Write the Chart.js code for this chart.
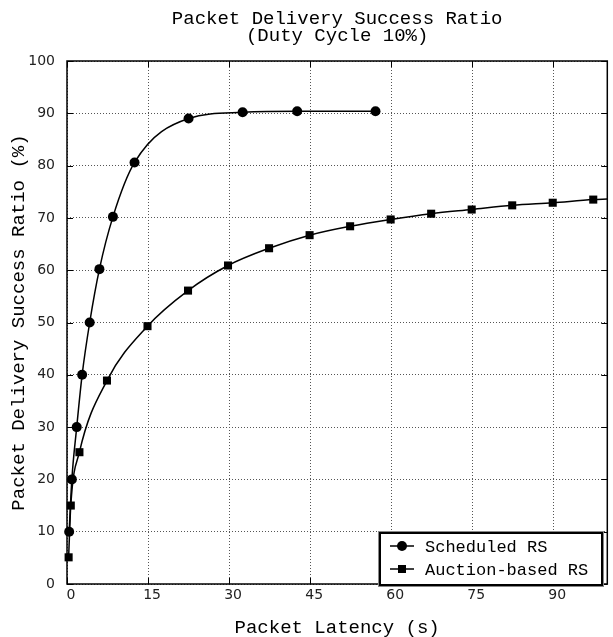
<!DOCTYPE html>
<html>
<head>
<meta charset="utf-8">
<script src="https://cdn.jsdelivr.net/npm/chart.js@4.4.1/dist/chart.umd.min.js"></script>
<style>
  html, body { margin: 0; padding: 0; background: #fff; }
  #wrap { width: 613px; height: 637px; }
</style>
</head>
<body>
<div id="wrap"><canvas id="pdrChart" width="613" height="637"></canvas></div>
<script>
// Chart data
const titleLines = ["Packet Delivery Success Ratio", "(Duty Cycle 10%)"];
const xTitle = "Packet Latency (s)";
const yTitle = "Packet Delivery Success Ratio (%)";

const scheduledLabel = "Scheduled RS";
const scheduledX = [0.4, 0.9, 1.8, 2.8, 4.2, 6.0, 8.5, 12.5, 22.5, 32.5, 42.6, 57.1];
const scheduledY = [10, 20, 30, 40, 50, 60.2, 70.2, 80.6, 89.0, 90.2, 90.4, 90.4];

const auctionLabel = "Auction-based RS";
const auctionX = [0.3, 0.7, 2.3, 7.4, 14.9, 22.4, 29.8, 37.4, 44.9, 52.4, 59.9, 67.4, 74.9, 82.4, 89.9, 97.4, 100];
const auctionY = [5.1, 15.0, 25.2, 38.9, 49.3, 56.1, 60.9, 64.2, 66.7, 68.4, 69.7, 70.8, 71.6, 72.4, 72.9, 73.5, 73.6];
// last point is just where the curve leaves the plot, no marker there
const auctionMarked = auctionX.map((v, i) => i < auctionX.length - 1);

const xMin = 0, xMax = 100, xStep = 15;
const yMin = 0, yMax = 100, yStep = 10;

const monoFont = "'Liberation Mono', 'Courier New', monospace";
const tickFont = "'DejaVu Sans', sans-serif";

function toPoints(xs, ys) {
    return xs.map((x, i) => ({ x: x, y: ys[i] }));
}

// Frame, inward tick marks, title and the boxed legend
const decorPlugin = {
    id: "decor",
    afterDraw(chart) {
        const ctx = chart.ctx;
        const a = chart.chartArea;
        const xs = chart.scales.x;
        const ys = chart.scales.y;
        ctx.save();

        // inward ticks on all four sides
        ctx.strokeStyle = "#000";
        ctx.lineWidth = 1;
        ctx.beginPath();
        xs.ticks.forEach(t => {
            const px = Math.round(xs.getPixelForValue(t.value)) + 0.5;
            ctx.moveTo(px, a.bottom); ctx.lineTo(px, a.bottom - 6);
            ctx.moveTo(px, a.top); ctx.lineTo(px, a.top + 6);
        });
        ys.ticks.forEach(t => {
            const py = Math.round(ys.getPixelForValue(t.value)) + 0.5;
            ctx.moveTo(a.left, py); ctx.lineTo(a.left + 6, py);
            ctx.moveTo(a.right, py); ctx.lineTo(a.right - 6, py);
        });
        ctx.stroke();

        // plot frame
        ctx.lineWidth = 1.5;
        ctx.strokeRect(a.left, a.top, a.right - a.left, a.bottom - a.top);

        // title, centred over the plot area
        ctx.fillStyle = "#000";
        ctx.font = "19px " + monoFont;
        ctx.textAlign = "center";
        ctx.textBaseline = "middle";
        const cx = (a.left + a.right) / 2;
        ctx.fillText(titleLines[0], cx, 19);
        ctx.fillText(titleLines[1], cx, 36);

        // legend box
        const bx = 380, by = 533, bw = 222, bh = 52;
        ctx.fillStyle = "#fff";
        ctx.fillRect(bx, by, bw, bh);
        ctx.strokeStyle = "#888";
        ctx.lineWidth = 1;
        ctx.strokeRect(bx - 1.5, by - 1.5, bw + 3, bh + 3);
        ctx.strokeStyle = "#000";
        ctx.lineWidth = 2;
        ctx.strokeRect(bx, by, bw, bh);

        ctx.font = "17px " + monoFont;
        ctx.textAlign = "left";
        chart.data.datasets.forEach((ds, i) => {
            const ly = by + 13 + i * 23;
            ctx.strokeStyle = "#000";
            ctx.lineWidth = 1.5;
            ctx.beginPath();
            ctx.moveTo(bx + 10, ly); ctx.lineTo(bx + 34, ly);
            ctx.stroke();
            ctx.fillStyle = "#000";
            if (ds.pointStyle === "circle") {
                ctx.beginPath();
                ctx.arc(bx + 22, ly, 5, 0, Math.PI * 2);
                ctx.fill();
            } else {
                ctx.fillRect(bx + 18, ly - 4, 8, 8);
            }
            ctx.fillText(ds.label, bx + 45, ly + 1);
        });

        ctx.restore();
    }
};

new Chart(document.getElementById("pdrChart"), {
    type: "line",
    data: {
        datasets: [{
            label: scheduledLabel,
            data: toPoints(scheduledX, scheduledY),
            borderColor: "#000",
            backgroundColor: "#000",
            borderWidth: 1.5,
            pointStyle: "circle",
            pointRadius: 5,
            pointBorderWidth: 0,
            cubicInterpolationMode: "monotone",
            clip: false
        }, {
            label: auctionLabel,
            data: toPoints(auctionX, auctionY),
            borderColor: "#000",
            backgroundColor: "#000",
            borderWidth: 1.5,
            pointStyle: "rect",
            pointRadius: ctx => auctionMarked[ctx.dataIndex] ? 5.7 : 0,
            pointBorderWidth: 0,
            cubicInterpolationMode: "monotone",
            clip: false
        }]
    },
    options: {
        responsive: false,
        animation: false,
        layout: { padding: { top: 61, right: 1, left: 0, bottom: 0 } },
        plugins: {
            legend: { display: false },
            title: { display: false },
            tooltip: { enabled: false }
        },
        scales: {
            x: {
                type: "linear",
                min: xMin,
                max: xMax,
                afterFit: s => { s.height = 53; },
                afterBuildTicks: s => {
                    s.ticks = [];
                    for (let v = xMin; v <= xMax; v += xStep) s.ticks.push({ value: v });
                },
                ticks: {
                    stepSize: xStep,
                    padding: 3,
                    labelOffset: 4,
                    color: "#222",
                    font: { family: tickFont, size: 14 },
                    maxRotation: 0
                },
                grid: {
                    color: "#555",
                    lineWidth: 1,
                    drawTicks: false
                },
                border: { display: false, dash: [1, 2] },
                title: {
                    display: true,
                    text: xTitle,
                    color: "#000",
                    font: { family: monoFont, size: 19, lineHeight: 1 },
                    padding: { top: 0, bottom: 0 }
                }
            },
            y: {
                type: "linear",
                min: yMin,
                max: yMax,
                afterFit: s => { s.width = 67; },
                ticks: {
                    stepSize: yStep,
                    padding: 12,
                    color: "#222",
                    font: { family: tickFont, size: 14 }
                },
                grid: {
                    color: "#555",
                    lineWidth: 1,
                    drawTicks: false
                },
                border: { display: false, dash: [1, 2] },
                title: {
                    display: true,
                    text: yTitle,
                    color: "#000",
                    font: { family: monoFont, size: 19, lineHeight: 1 },
                    padding: { top: 9, bottom: 0 }
                }
            }
        }
    },
    plugins: [decorPlugin]
});
</script>
</body>
</html>
